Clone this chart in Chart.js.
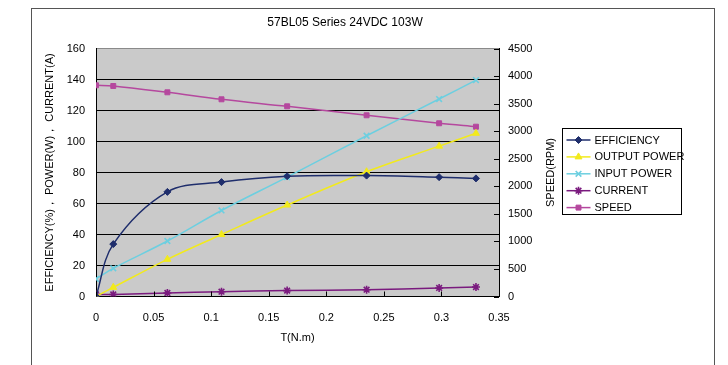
<!DOCTYPE html>
<html>
<head>
<meta charset="utf-8">
<script src="https://cdn.jsdelivr.net/npm/chart.js@4/dist/chart.umd.min.js"></script>
<style>
  body { margin: 0; background: #fff; }
  #wrap { position: relative; width: 728px; height: 365px; overflow: hidden; }
  #frame { position: absolute; left: 31px; top: 8px; width: 682px; height: 400px;
           border: 1px solid #555; border-bottom: none; }
  #chart { position: absolute; left: 0; top: 0; }
</style>
</head>
<body>
<div id="wrap">
  <div id="frame"></div>
  <canvas id="chart" width="728" height="365"></canvas>
</div>
<script>
const ctx = document.getElementById("chart");

// torque (N.m) at each measuring point
const torque = [0, 0.015, 0.062, 0.109, 0.166, 0.235, 0.298, 0.33];

const efficiency = [0, 33.8, 67.5, 73.8, 77.6, 78, 77, 76.2];
const outputPower = [0, 5.9, 24, 40, 59, 80.5, 97, 105.3];
const inputPower = [11.3, 18.2, 35.8, 55.5, 77, 103.7, 127.4, 139.6];
const current = [1.3, 1.3, 2.3, 3.1, 3.8, 4.4, 5.5, 6.1];
const speed = [3832, 3820, 3705, 3578, 3451, 3288, 3143, 3081];

const seriesNames = ["EFFICIENCY", "OUTPUT POWER", "INPUT POWER", "CURRENT", "SPEED"];
const chartTitle = "57BL05 Series 24VDC 103W";

const FONT = "'Liberation Sans', Arial, sans-serif";
Chart.defaults.font.family = FONT;
Chart.defaults.font.size = 11;
Chart.defaults.color = "#000";

const toPoints = (vals) => vals.map((v, i) => ({ x: torque[i], y: v }));

function series(label, vals, color, style, radius, axis, pbw) {
  return {
    label: label,
    data: toPoints(vals),
    yAxisID: axis,
    borderColor: color,
    backgroundColor: color,
    pointBackgroundColor: color,
    pointBorderColor: color,
    pointStyle: style,
    pointRadius: radius,
    pointBorderWidth: pbw || 1,
    borderWidth: 1.5,
    tension: 0.35,
  };
}

const datasets = [
  series(seriesNames[0], efficiency, "#1f2e6c", "rectRot", 3.5, "y"),
  series(seriesNames[1], outputPower, "#f2ea1c", "triangle", 4, "y"),
  series(seriesNames[2], inputPower, "#6ccfe0", "crossRot", 4, "y", 1.6),
  series(seriesNames[3], current, "#7a1a7e", "star", 4, "y", 1.6),
  series(seriesNames[4], speed, "#b5489e", "rect", 3.5, "y1"),
];

const plotBackground = {
  id: "plotBackground",
  beforeDraw(chart) {
    const { ctx, chartArea: a } = chart;
    ctx.save();
    ctx.fillStyle = "#cacaca";
    ctx.fillRect(a.left, a.top, a.right - a.left, a.bottom - a.top);
    ctx.restore();
  },
};

// tick marks pointing into the plot (bottom and right axes), the rotated SPEED title and the chart title
const extras = {
  id: "extras",
  afterDraw(chart) {
    const { ctx, chartArea: a, scales } = chart;
    ctx.save();
    ctx.strokeStyle = "#000";
    ctx.lineWidth = 1;
    ctx.beginPath();
    scales.x.ticks.forEach((t) => {
      const px = Math.round(scales.x.getPixelForValue(t.value)) + 0.5;
      ctx.moveTo(px, a.bottom);
      ctx.lineTo(px, a.bottom - 5);
    });
    scales.y1.ticks.forEach((t) => {
      const py = Math.round(scales.y1.getPixelForValue(t.value)) + 0.5;
      ctx.moveTo(a.right, py);
      ctx.lineTo(a.right - 5, py);
    });
    ctx.stroke();

    ctx.fillStyle = "#000";
    ctx.textAlign = "center";
    ctx.textBaseline = "middle";
    ctx.font = "12px " + FONT;
    ctx.fillText(chartTitle, 345, 23);

    ctx.translate(a.right + 52, (a.top + a.bottom) / 2);
    ctx.rotate(-Math.PI / 2);
    ctx.font = "11px " + FONT;
    ctx.fillText("SPEED(RPM)", 0, 0);
    ctx.restore();
  },
};

const boxLegend = {
  id: "boxLegend",
  afterDraw(chart) {
    const { ctx, chartArea: a } = chart;
    const x0 = Math.round(a.right + 63) + 0.5;
    const y0 = Math.round(a.top + 79) + 0.5;
    ctx.save();
    ctx.strokeStyle = "#000";
    ctx.lineWidth = 1;
    ctx.strokeRect(x0, y0, 119, 86);
    chart.data.datasets.forEach((ds, i) => {
      const y = y0 + 11.5 + i * 16.9;
      ctx.strokeStyle = ds.borderColor;
      ctx.fillStyle = ds.pointBackgroundColor;
      ctx.lineWidth = 1.5;
      ctx.beginPath();
      ctx.moveTo(x0 + 4, y);
      ctx.lineTo(x0 + 28, y);
      ctx.stroke();
      ctx.lineWidth = ds.pointBorderWidth;
      Chart.helpers.drawPoint(
        ctx,
        { pointStyle: ds.pointStyle, radius: ds.pointRadius, rotation: 0, borderWidth: ds.pointBorderWidth },
        x0 + 16,
        y,
      );
      ctx.fillStyle = "#000";
      ctx.font = "11px " + FONT;
      ctx.textAlign = "left";
      ctx.textBaseline = "middle";
      ctx.fillText(ds.label, x0 + 32, y + 0.5);
    });
    ctx.restore();
  },
};

const config = {
  type: "line",
  data: { datasets: datasets },
  plugins: [plotBackground, extras, boxLegend],
  options: {
    responsive: false,
    animation: false,
    devicePixelRatio: 1,
    layout: { padding: { left: 38, right: 169, top: 48.5, bottom: 0 } },
    plugins: {
      legend: { display: false },
      tooltip: { enabled: false },
      title: { display: false },
    },
    scales: {
      x: {
        type: "linear",
        min: 0,
        max: 0.35,
        grid: { display: false, drawTicks: false },
        border: { display: true, color: "#000", width: 1 },
        ticks: {
          stepSize: 0.05,
          padding: 15,
          callback: (v) => String(+v.toFixed(2)),
        },
        title: {
          display: true,
          text: "T(N.m)",
          padding: { top: 0, bottom: 20 },
        },
        afterFit: (scale) => { scale.height = 68.5; },
      },
      y: {
        position: "left",
        min: 0,
        max: 160,
        grid: {
          drawTicks: false,
          color: (c) => (c.tick && c.tick.value === 160 ? "#8a8a8a" : "#000"),
          lineWidth: 1,
        },
        border: { display: true, color: "#000", width: 1 },
        ticks: { stepSize: 20, padding: 11, callback: (v) => String(v) },
        title: {
          display: true,
          text: "EFFICIENCY(%)， POWER(W)， CURRENT(A)",
          padding: { top: 5, bottom: 0 },
        },
        afterFit: (scale) => { scale.width = 58; },
      },
      y1: {
        position: "right",
        min: 0,
        max: 4500,
        grid: { drawOnChartArea: false, drawTicks: false },
        border: { display: true, color: "#000", width: 1 },
        ticks: { stepSize: 500, padding: 9, callback: (v) => String(v) },
        afterFit: (scale) => { scale.width = 60; },
      },
    },
  },
};

new Chart(ctx, config);
</script>
</body>
</html>
